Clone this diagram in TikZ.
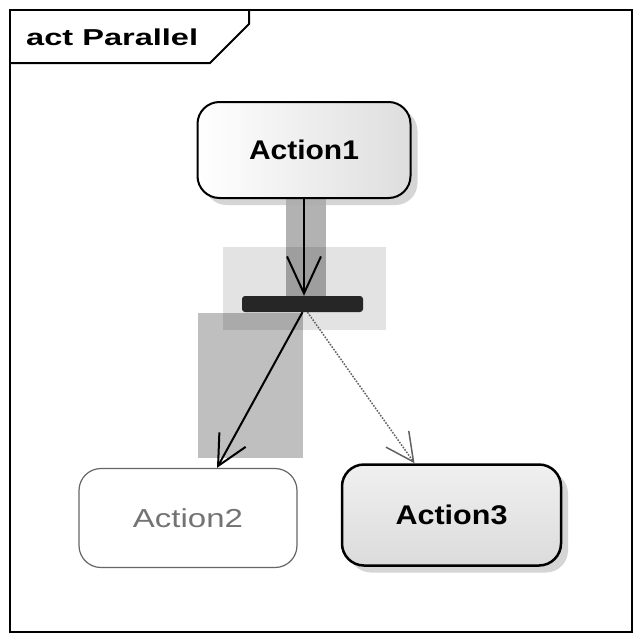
\documentclass[tikz,border=0pt]{standalone}
\usepackage{fontspec}
\setmainfont{Liberation Sans}
\usetikzlibrary{arrows.meta,shadows}
\newcommand{\fitw}[2]{\raisebox{-3pt}{\resizebox{#1}{\height}{#2}}}
\begin{document}
\begin{tikzpicture}[x=1pt,y=-1pt,
  act/.style={rectangle, rounded corners=22pt, inner sep=0pt},
  shd/.style={drop shadow={shadow xshift=7pt,shadow yshift=-7pt,fill=black!32}},
  flow/.style={line width=2pt, -{Straight Barb[length=30pt,width=30pt,line width=2pt]}},
  dflow/.style={black!62, line width=1.5pt, dash pattern=on 1.6pt off 1.4pt,
    -{Straight Barb[length=28pt,width=28pt,line width=1.5pt]}},
]
\useasboundingbox (0,0) rectangle (640,640);
\fill[white] (0,0) rectangle (640,640);
% highlights
\fill[black, opacity=0.11] (223,247) rectangle (386,330);
\fill[black, opacity=0.30] (286,198) rectangle (326,300);
\fill[black, opacity=0.25] (198,313) rectangle (303,458);
% frame
\draw[line width=2pt] (10,10) rectangle (632,632);
\draw[line width=2pt] (10,63) -- (210,63) -- (249,24) -- (249,10);
\node[anchor=west, inner sep=0pt] (title) at (26,37)
  {\resizebox{172pt}{\height}{\fontsize{23}{23}\selectfont\bfseries act Parallel}};
% nodes
\node[act, draw, line width=2pt, left color=white, right color=black!13, shd,
  minimum width=213pt, minimum height=96pt] (a1) at (304,150)
  {\fitw{110pt}{\fontsize{27}{27}\selectfont\bfseries Action1}};
\node[fill=black!85, rounded corners=3pt, minimum width=121pt, minimum height=16pt,
  inner sep=0pt] (bar) at (302.5,304) {};
\node[act, draw=black!60, line width=1.2pt, fill=white,
  minimum width=218pt, minimum height=99pt] (a2) at (188,518)
  {\color{black!55}\fitw{110pt}{\fontsize{26}{26}\selectfont Action2}};
\node[act, draw, line width=2.5pt, top color=black!6, bottom color=black!14, shd,
  minimum width=219pt, minimum height=101pt] (a3) at (451.5,515)
  {\fitw{112pt}{\fontsize{27}{27}\selectfont\bfseries Action3}};
% connectors
\draw[flow, -{Straight Barb[length=37pt,width=34pt,line width=2pt]}]
  (a1.south) -- (a1.south |- bar.north);
\draw[flow] (bar.south) -- ([xshift=29pt]a2.north);
\draw[dflow] ([xshift=5pt]bar.south) -- ([xshift=-37pt]a3.north);
\end{tikzpicture}
\end{document}
